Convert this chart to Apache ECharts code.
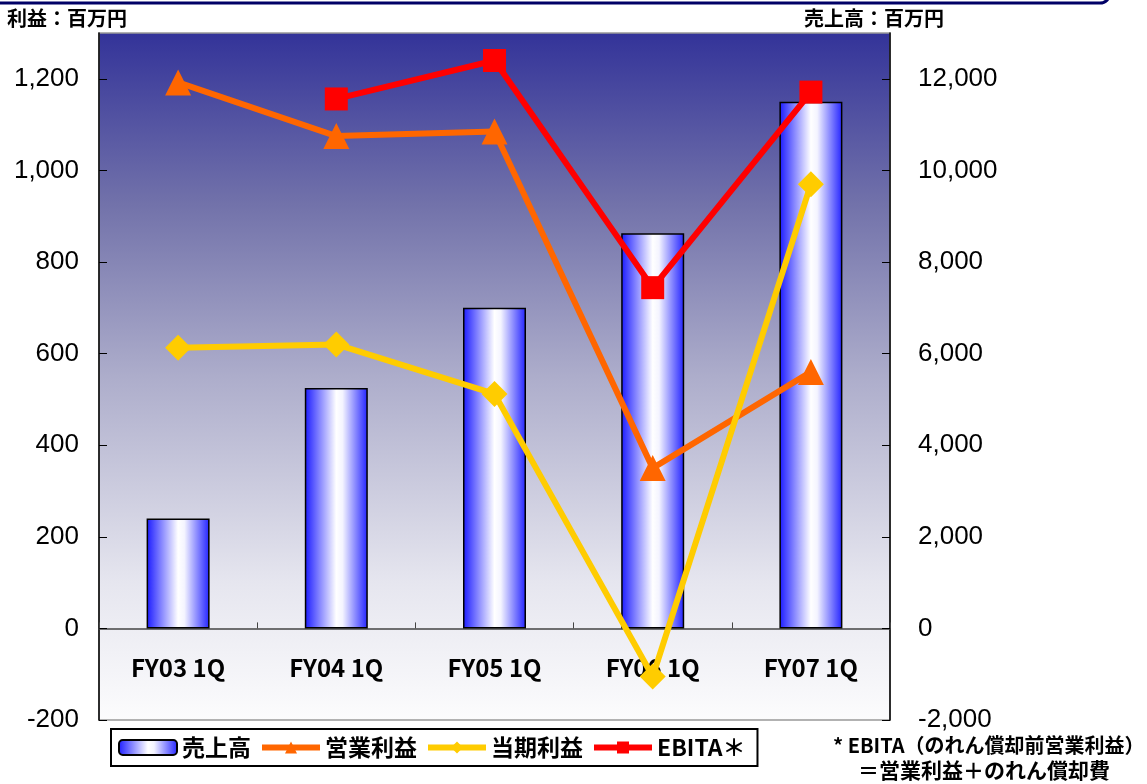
<!DOCTYPE html>
<html>
<head>
<meta charset="utf-8">
<script src="https://cdn.jsdelivr.net/npm/echarts@6/dist/echarts.min.js"></script>
<style>
  html, body { margin: 0; padding: 0; background: #fff; }
  #main { width: 1147px; height: 784px; }
</style>
</head>
<body>
<div id="main"></div>
<script>
// 四半期ごとの実績
const categories = ['FY03 1Q', 'FY04 1Q', 'FY05 1Q', 'FY06 1Q', 'FY07 1Q']
const sales = [2400, 5250, 7000, 8630, 11500]        // 売上高（右軸）
const opProfit = [1192, 1075, 1085, 350, 560]         // 営業利益
const netProfit = [613, 620, 512, -105, 970]          // 当期利益
const ebita = [null, 1156, 1240, 744, 1171]           // EBITA
const leftTicks = [-200, 1300, 200]
const rightTicks = [-2000, 13000, 2000]

const font = '"Noto Sans CJK JP", "Noto Sans", sans-serif'
const numFont = 'Arial, "Liberation Sans", sans-serif'
let myChart = echarts.init(document.getElementById('main'))

const barColor = {
  type: 'linear', x: 0, y: 0, x2: 1, y2: 0,
  colorStops: [
    { offset: 0, color: '#1a1aff' },
    { offset: 0.5, color: '#ffffff' },
    { offset: 0.6, color: '#f4f4ff' },
    { offset: 1, color: '#2222ff' }
  ]
}

function fmt (v) {
  return v.toLocaleString('en-US')
}

myChart.setOption({
  animation: false,
  textStyle: { fontFamily: font },
  grid: {
    left: 99, right: 257, top: 33, bottom: 64,
    show: true,
    borderColor: '#999',
    borderWidth: 1.5,
    backgroundColor: {
      type: 'linear', x: 0, y: 0, x2: 0, y2: 1,
      colorStops: [
        { offset: 0, color: '#333399' },
        { offset: 0.25, color: '#7272aa' },
        { offset: 0.5, color: '#adadcb' },
        { offset: 0.8, color: '#e6e6ef' },
        { offset: 1, color: '#fcfcfd' }
      ]
    }
  },
  legend: {
    left: 111, top: 729,
    padding: [7, 12, 7, 7],
    itemGap: 8,
    itemWidth: 58,
    itemHeight: 15,
    borderColor: '#000',
    borderWidth: 2,
    backgroundColor: '#fff',
    lineStyle: { width: 6 },
    textStyle: { fontSize: 23, fontWeight: 'bold', color: '#000', fontFamily: font },
    data: ['売上高', '営業利益', '当期利益', 'EBITA＊']
  },
  xAxis: {
    type: 'category',
    data: categories,
    axisLine: { onZero: true, lineStyle: { color: '#444', width: 1.5 } },
    axisTick: { show: true, inside: true, length: 6, lineStyle: { color: '#444' } },
    axisLabel: { margin: -64, fontSize: 24, fontWeight: 'bold', color: '#000', fontFamily: font }
  },
  yAxis: [{
    type: 'value',
    min: leftTicks[0], max: leftTicks[1], interval: leftTicks[2],
    splitLine: { show: false },
    axisLine: { show: true, lineStyle: { color: '#000', width: 1.5 } },
    axisTick: { show: true, inside: true, length: 8, lineStyle: { color: '#000' } },
    axisLabel: {
      showMaxLabel: false, margin: 20, fontSize: 26, color: '#000',
      fontFamily: numFont, formatter: fmt
    }
  }, {
    type: 'value',
    min: rightTicks[0], max: rightTicks[1], interval: rightTicks[2],
    splitLine: { show: false },
    axisLine: { show: true, lineStyle: { color: '#000', width: 1.5 } },
    axisTick: { show: true, inside: true, length: 8, lineStyle: { color: '#000' } },
    axisLabel: {
      showMaxLabel: false, margin: 28, fontSize: 26, color: '#000',
      fontFamily: numFont, formatter: fmt
    }
  }],
  series: [{
    name: '売上高',
    type: 'bar',
    yAxisIndex: 1,
    barWidth: 63,
    data: sales,
    itemStyle: { color: barColor, borderColor: '#000', borderWidth: 1.5 }
  }, {
    name: '営業利益',
    type: 'line',
    data: opProfit,
    symbol: 'triangle',
    symbolSize: 26,
    lineStyle: { color: '#ff6600', width: 6 },
    itemStyle: { color: '#ff6600' }
  }, {
    name: '当期利益',
    type: 'line',
    data: netProfit,
    symbol: 'diamond',
    symbolSize: 26,
    lineStyle: { color: '#ffcc00', width: 6 },
    itemStyle: { color: '#ffcc00' }
  }, {
    name: 'EBITA＊',
    type: 'line',
    data: ebita,
    symbol: 'rect',
    symbolSize: 23,
    lineStyle: { color: '#ff0000', width: 6 },
    itemStyle: { color: '#ff0000' }
  }],
  graphic: [{
    type: 'rect',
    shape: { x: -20, y: -40, width: 1130, height: 43, r: 10 },
    style: { fill: 'none', stroke: '#000066', lineWidth: 3 }
  }, {
    type: 'text', left: 7, top: 8,
    style: { text: '利益：百万円', fontSize: 20, fontWeight: 'bold', fill: '#000', fontFamily: font }
  }, {
    type: 'text', left: 804, top: 8,
    style: { text: '売上高：百万円', fontSize: 20, fontWeight: 'bold', fill: '#000', fontFamily: font }
  }, {
    type: 'text', left: 833, top: 735,
    style: { text: '* EBITA（のれん償却前営業利益）', fontSize: 20, fontWeight: 'bold', fill: '#000', fontFamily: font }
  }, {
    type: 'text', left: 858, top: 760,
    style: { text: '＝営業利益＋のれん償却費', fontSize: 21, fontWeight: 'bold', fill: '#000', fontFamily: font }
  }]
})
</script>
</body>
</html>
